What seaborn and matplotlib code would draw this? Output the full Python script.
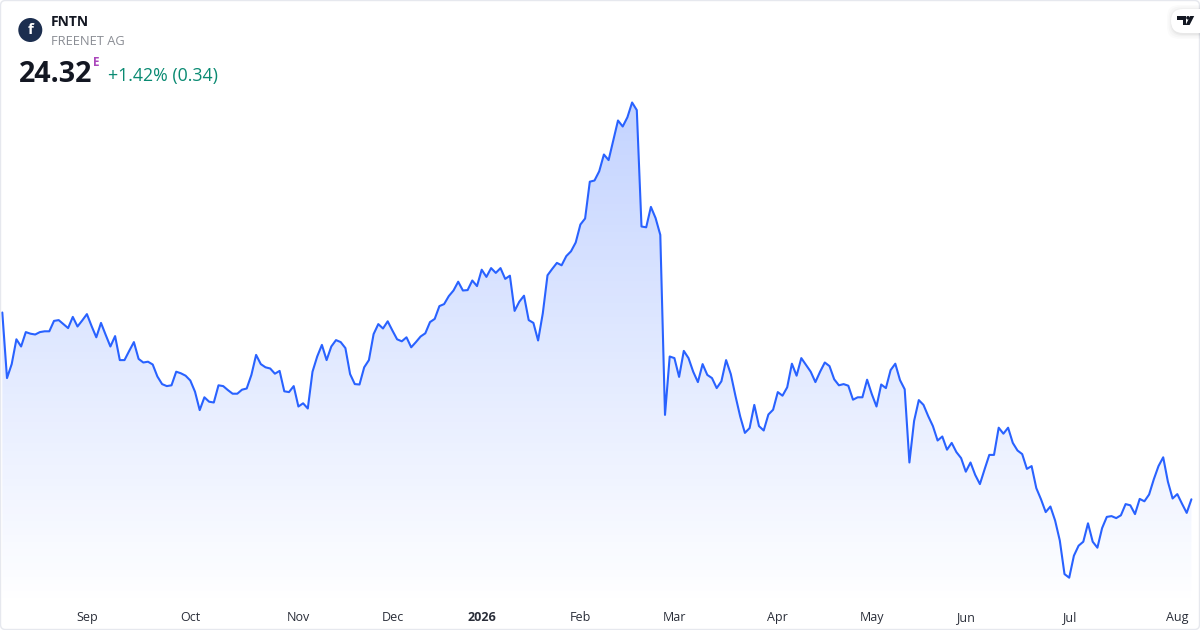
import numpy as np
import pandas as pd
import seaborn as sns
import matplotlib.pyplot as plt
from matplotlib.patches import Circle, FancyBboxPatch, Polygon

# Xetra sessions, Aug 2025 to Aug 2026
start_date = '2025-08-06'
end_date = '2026-08-06'
holidays = ['2025-12-24', '2025-12-25', '2025-12-26', '2025-12-31', '2026-01-01',
            '2026-04-03', '2026-04-06', '2026-05-01']

# Daily close
closes_2025_q3 = [
    28.99, 27.35, 27.70, 28.32, 28.14, 28.50, 28.46, 28.44, 28.50, 28.52,
    28.52, 28.78, 28.80, 28.70, 28.60, 28.88, 28.64, 28.79, 28.95, 28.65,
    28.37, 28.73, 28.43, 28.14, 28.40, 27.80, 27.80, 28.03, 28.25, 27.83,
    27.74, 27.76, 27.69, 27.39, 27.20, 27.15, 27.17, 27.51, 27.47, 27.41,
    27.29, 27.01, 26.55, 26.87, 26.76, 26.74, 27.17, 27.15, 27.05, 26.96,
    26.96, 27.06, 27.09, 27.43, 27.93, 27.70, 27.62, 27.59, 27.46, 27.53,
]
closes_2025_q4 = [
    27.02, 27.00, 27.15, 26.64, 26.72, 26.59, 27.51, 27.89, 28.18, 27.80,
    28.14, 28.30, 28.25, 28.10, 27.45, 27.20, 27.19, 27.62, 27.80, 28.45,
    28.70, 28.59, 28.77, 28.54, 28.32, 28.27, 28.37, 28.12, 28.25, 28.39,
    28.47, 28.75, 28.83, 29.15, 29.20, 29.40, 29.54, 29.76, 29.54, 29.55,
    29.79, 29.65, 30.06, 29.88, 30.10, 29.98, 30.10, 29.83, 29.91, 29.03,
    29.26, 29.41, 28.80, 28.73, 28.29, 28.97, 29.92, 30.08, 30.23, 30.17,
]
closes_2026_q1 = [
    30.40, 30.52, 30.74, 31.19, 31.34, 32.26, 32.29, 32.52, 32.94, 32.80,
    33.30, 33.79, 33.64, 33.87, 34.24, 34.05, 31.14, 31.12, 31.63, 31.35,
    30.93, 26.43, 27.89, 27.85, 27.38, 28.03, 27.85, 27.51, 27.25, 27.70,
    27.43, 27.35, 27.10, 27.27, 27.80, 27.45, 26.90, 26.39, 25.98, 26.10,
    26.68, 26.15, 26.04, 26.44, 26.56, 27.00, 26.91, 27.12, 27.71, 27.41,
    27.85, 27.68, 27.51, 27.25, 27.51, 27.74, 27.65, 27.32, 27.17, 27.20,
]
closes_2026_q2 = [
    27.16, 26.81, 26.87, 26.87, 27.31, 26.95, 26.64, 27.19, 27.10, 27.55,
    27.71, 27.30, 27.07, 25.24, 26.28, 26.80, 26.68, 26.40, 26.15, 25.79,
    25.89, 25.56, 25.73, 25.50, 25.35, 25.01, 25.24, 24.93, 24.70, 25.07,
    25.43, 25.43, 26.11, 25.96, 26.11, 25.73, 25.54, 25.45, 25.08, 25.15,
    24.60, 24.32, 24.00, 24.14, 23.79, 23.29, 22.45, 22.36, 22.91, 23.16,
    23.26, 23.72, 23.26, 23.11, 23.60, 23.88, 23.90, 23.85, 23.92, 24.20,
]
closes_2026_q3 = [
    24.17, 23.95, 24.33, 24.27, 24.44, 24.82, 25.15, 25.37, 24.76, 24.34,
    24.45, 24.21, 23.98, 24.32,
]

month_labels = ['Sep', 'Oct', 'Nov', 'Dec', '2026', 'Feb', 'Mar', 'Apr', 'May', 'Jun', 'Jul', 'Aug']

ticker = 'FNTN'
company = 'FREENET AG'
last_price = '24.32'
change_text = '+1.42% (0.34)'

sns.set_theme(style='white')
plt.rcParams['font.family'] = ['Open Sans', 'DejaVu Sans']

# TradingView spaces sessions evenly, so plot against the session number
dates = pd.bdate_range(start_date, end_date).difference(pd.to_datetime(holidays))
closes = closes_2025_q3 + closes_2025_q4 + closes_2026_q1 + closes_2026_q2 + closes_2026_q3
df = pd.DataFrame({'date': dates, 'close': closes})
df['pos'] = np.arange(len(df))

W, H = 1200, 630
PLOT_BOTTOM = 605
fig = plt.figure(figsize=(W / 100, H / 100), dpi=100, facecolor='white')
ax = fig.add_axes([0, 1 - PLOT_BOTTOM / H, 1, PLOT_BOTTOM / H])

# limits chosen so the series sits where it does in the reference
x_step = 4.7
x_left = 2.3
px_per_unit = 40
y_bottom = 24.32 - (PLOT_BOTTOM - 499.3) / px_per_unit
y_top = 24.32 + 499.3 / px_per_unit
x_min, x_max = -x_left / x_step, (W - x_left) / x_step

# gradient under the line, clipped to the area below it
peak_px = 102
grad = np.zeros((PLOT_BOTTOM, 2, 4))
grad[..., 0] = 41 / 255
grad[..., 1] = 98 / 255
grad[..., 2] = 1.0
fade = np.clip((PLOT_BOTTOM - np.arange(PLOT_BOTTOM)) / (PLOT_BOTTOM - peak_px), 0, 1)
grad[..., 3] = (0.28 * fade)[:, None]
im = ax.imshow(grad, extent=[x_min, x_max, y_bottom, y_top], aspect='auto', zorder=1)
area = ax.fill_between(df['pos'], df['close'], y_bottom, facecolor='none', edgecolor='none')
im.set_clip_path(area.get_paths()[0], transform=ax.transData)

sns.lineplot(data=df, x='pos', y='close', ax=ax, color='#2962ff', linewidth=1.5, zorder=2,
             errorbar=None, estimator=None)

ax.set_xlim(x_min, x_max)
ax.set_ylim(y_bottom, y_top)
ax.set_xlabel('')
ax.set_ylabel('')
ax.set_yticks([])
for side in ax.spines.values():
    side.set_visible(False)

# first session of each month, skipping the partial August at the start
month_first = df.groupby(df['date'].dt.to_period('M'))['pos'].min().iloc[1:]
month_first = month_first.iloc[:len(month_labels)]
ax.set_xticks(month_first.values)
ax.set_xticklabels(month_labels, fontsize=9, color='#2a2e39')
ax.tick_params(axis='x', length=0, pad=11.8)
for lab in ax.get_xticklabels():
    lab.set_verticalalignment('baseline')
    if lab.get_text() == '2026':
        lab.set_fontweight('bold')

# header, logo and frame live in a pixel-sized overlay
over = fig.add_axes([0, 0, 1, 1], zorder=5)
over.set_xlim(0, W)
over.set_ylim(H, 0)
over.axis('off')
over.patch.set_alpha(0)

over.add_patch(FancyBboxPatch((0.5, 0.5), W - 1, H - 1, boxstyle='round,pad=0,rounding_size=5',
                              facecolor='none', edgecolor='#e6e8ee', linewidth=1.0))

over.add_patch(Circle((30.3, 30), 12, facecolor='#1c2e4f', edgecolor='none'))
over.text(30.3, 30.5, 'f', color='white', fontsize=11, fontweight='bold', ha='center', va='center')

over.text(51, 22, ticker, fontsize=10, fontweight='bold', color='#131722', va='center')
over.text(51, 41.5, company, fontsize=9.3, color='#8a8d94', va='center')
over.text(19, 74, last_price, fontsize=20.5, fontweight='bold', color='#131722', va='center')
over.text(93, 62.5, 'E', fontsize=8.5, fontweight='bold', color='#ab47bc', va='center')
over.text(108, 76, change_text, fontsize=12.8, color='#0a8a72', va='center')

# TradingView badge top right
for grow, alpha in [(5, 0.015), (3.5, 0.02), (2, 0.025), (1, 0.03)]:
    over.add_patch(FancyBboxPatch((1172 - grow, 9 - grow + 1), 60 + grow, 24 + 2 * grow,
                                  boxstyle='round,pad=0,rounding_size=12', facecolor='black',
                                  edgecolor='none', alpha=alpha, clip_on=True))
over.add_patch(FancyBboxPatch((1171, 9), 60, 24, boxstyle='round,pad=0,rounding_size=12',
                              facecolor='white', edgecolor='none'))
over.add_patch(Polygon([(1177.3, 16), (1186, 16), (1186, 25), (1182.5, 25), (1182.5, 19.5), (1177.3, 19.5)],
                       facecolor='#131722', edgecolor='none'))
over.add_patch(Circle((1188, 17.8), 1.8, facecolor='#131722', edgecolor='none'))
over.add_patch(Polygon([(1190.2, 16), (1194.2, 16), (1189.6, 25), (1185.6, 25)],
                       facecolor='#131722', edgecolor='none'))

fig.savefig('out.png', dpi=100)
